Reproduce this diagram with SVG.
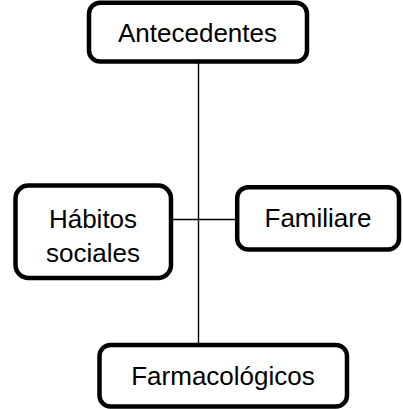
<svg xmlns="http://www.w3.org/2000/svg" width="403" height="409" viewBox="0 0 403 409">
<style>
.box{fill:#fff;stroke:#000;stroke-width:4.5}
.lbl{font-family:"Liberation Sans",Arial,sans-serif;font-size:26px;fill:#000;text-anchor:middle}
.conn{stroke:#000;stroke-width:1.4;fill:none}
</style>
<rect width="403" height="409" fill="#fff"/>
<g id="connectors">
<line class="conn" x1="198.5" y1="63" x2="198.5" y2="344"/>
<line class="conn" x1="172" y1="219.5" x2="236" y2="219.5"/>
</g>
<g id="antecedentes">
<rect class="box" x="89" y="2.8" width="218" height="58.7" rx="11"/>
<text class="lbl" x="197.5" y="42">Antecedentes</text>
</g>
<g id="habitos">
<rect class="box" x="15.5" y="185.5" width="155.5" height="92.5" rx="13"/>
<text class="lbl" x="93" y="228">Hábitos</text>
<text class="lbl" x="93" y="261.5">sociales</text>
</g>
<g id="familiare">
<rect class="box" x="237.2" y="187.2" width="161.8" height="62.3" rx="11"/>
<text class="lbl" x="318" y="227">Familiare</text>
</g>
<g id="farmacologicos">
<rect class="box" x="99.5" y="345" width="247.5" height="61.5" rx="11"/>
<text class="lbl" x="223" y="385">Farmacológicos</text>
</g>
</svg>
